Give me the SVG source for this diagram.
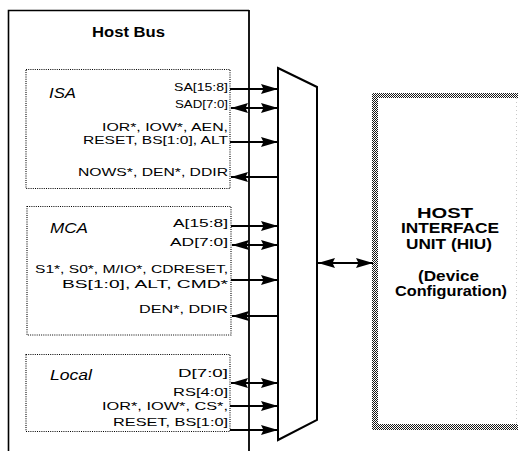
<svg xmlns="http://www.w3.org/2000/svg" width="518" height="451" viewBox="0 0 518 451">
  <style>
    text { font-family: "Liberation Sans", Arial, Helvetica, sans-serif; fill: #000; }
    .sig { font-size: 11.2px; }
    .title { font-size: 14px; font-weight: bold; }
    .bus { font-size: 14px; font-style: italic; }
    .hiu { font-size: 14px; font-weight: bold; }
    .frame { fill: none; stroke: #000; stroke-width: 1.6; }
    .group { fill: none; stroke: #000; stroke-width: 1.1; stroke-dasharray: 1 1.2; }
    .wire { stroke: #000; stroke-width: 1.8; fill: none; }
    .out { marker-end: url(#head); }
    .in { marker-start: url(#head); }
    .both { marker-start: url(#head); marker-end: url(#head); }
  </style>
  <defs>
    <marker id="head" viewBox="0 0 17 10" refX="17" refY="5" markerWidth="17" markerHeight="10" markerUnits="userSpaceOnUse" orient="auto-start-reverse">
      <path d="M0,0 L17,5 L0,10 L2.5,5 z" fill="#000"/>
    </marker>
    <pattern id="weave" width="2" height="2" patternUnits="userSpaceOnUse">
      <rect width="2" height="2" fill="#fff"/>
      <rect width="1" height="1" fill="#1a1a1a"/>
      <rect x="1" y="1" width="1" height="1" fill="#1a1a1a"/>
    </pattern>
  </defs>

  <rect width="518" height="451" fill="#fff"/>

  <!-- Host bus frame, open at the bottom -->
  <g id="host-bus">
    <path class="frame" d="M8.5,451 L8.5,10.5 L249,10.5"/>
    <text class="title" x="92" y="37" textLength="73" lengthAdjust="spacingAndGlyphs">Host Bus</text>
  </g>

  <!-- ISA signal group -->
  <g id="isa">
    <rect class="group" x="26" y="69.5" width="204" height="119"/>
    <text class="bus" x="49" y="98" textLength="27" lengthAdjust="spacingAndGlyphs">ISA</text>
    <text class="sig" x="174" y="91" textLength="54" lengthAdjust="spacingAndGlyphs">SA[15:8]</text>
    <text class="sig" x="175" y="107.5" textLength="53" lengthAdjust="spacingAndGlyphs">SAD[7:0]</text>
    <text class="sig" x="102" y="131" textLength="126" lengthAdjust="spacingAndGlyphs">IOR*, IOW*, AEN,</text>
    <text class="sig" x="83" y="144" textLength="145" lengthAdjust="spacingAndGlyphs">RESET, BS[1:0], ALT</text>
    <text class="sig" x="78" y="176" textLength="150" lengthAdjust="spacingAndGlyphs">NOWS*, DEN*, DDIR</text>
  </g>

  <!-- MCA signal group -->
  <g id="mca">
    <rect class="group" x="27" y="206.5" width="204" height="128.5"/>
    <text class="bus" x="50" y="233" textLength="38" lengthAdjust="spacingAndGlyphs">MCA</text>
    <text class="sig" x="173" y="227" textLength="55" lengthAdjust="spacingAndGlyphs">A[15:8]</text>
    <text class="sig" x="170" y="246" textLength="58" lengthAdjust="spacingAndGlyphs">AD[7:0]</text>
    <text class="sig" x="35" y="273" textLength="193" lengthAdjust="spacingAndGlyphs">S1*, S0*, M/IO*, CDRESET,</text>
    <text class="sig" x="62" y="288" textLength="166" lengthAdjust="spacingAndGlyphs">BS[1:0], ALT, CMD*</text>
    <text class="sig" x="139" y="313" textLength="89" lengthAdjust="spacingAndGlyphs">DEN*, DDIR</text>
  </g>

  <!-- Local signal group -->
  <g id="local">
    <rect class="group" x="26" y="354.5" width="204" height="77"/>
    <text class="bus" x="50" y="380" textLength="42" lengthAdjust="spacingAndGlyphs">Local</text>
    <text class="sig" x="178" y="377" textLength="50" lengthAdjust="spacingAndGlyphs">D[7:0]</text>
    <text class="sig" x="173" y="396" textLength="55" lengthAdjust="spacingAndGlyphs">RS[4:0]</text>
    <text class="sig" x="102" y="410" textLength="126" lengthAdjust="spacingAndGlyphs">IOR*, IOW*, CS*,</text>
    <text class="sig" x="113" y="426" textLength="115" lengthAdjust="spacingAndGlyphs">RESET, BS[1:0]</text>
  </g>

  <!-- Multiplexer -->
  <g id="mux">
    <polygon points="278,68 317,87 317,420 278,440" fill="#fff" stroke="#000" stroke-width="2"/>
  </g>

  <!-- Host Interface Unit -->
  <g id="hiu">
    <rect x="378" y="98" width="140" height="326" fill="#fff"/>
    <rect x="372" y="93" width="146" height="5" fill="url(#weave)"/>
    <rect x="372" y="93" width="6" height="337" fill="url(#weave)"/>
    <rect x="372" y="424" width="146" height="6" fill="url(#weave)"/>
    <line x1="516.5" y1="98" x2="516.5" y2="424" stroke="#c8c8c8" stroke-width="1" stroke-dasharray="1 3"/>
    <text class="hiu" x="417" y="218" textLength="56" lengthAdjust="spacingAndGlyphs">HOST</text>
    <text class="hiu" x="401" y="233" textLength="98" lengthAdjust="spacingAndGlyphs">INTERFACE</text>
    <text class="hiu" x="406" y="249" textLength="86" lengthAdjust="spacingAndGlyphs">UNIT (HIU)</text>
    <text class="hiu" x="418" y="281" textLength="61" lengthAdjust="spacingAndGlyphs">(Device</text>
    <text class="hiu" x="395" y="296" textLength="112" lengthAdjust="spacingAndGlyphs">Configuration)</text>
  </g>

  <!-- Signal connectors -->
  <g id="connectors">
    <!-- host bus backbone -->
    <line class="wire" x1="249" y1="10" x2="249" y2="451" stroke-width="2"/>
    <!-- ISA -->
    <line class="wire out" x1="230" y1="89" x2="278" y2="89"/>
    <line class="wire both" x1="231" y1="108" x2="278" y2="108"/>
    <line class="wire out" x1="230" y1="142" x2="278" y2="142"/>
    <line class="wire in" x1="231" y1="177" x2="278" y2="177"/>
    <!-- MCA -->
    <line class="wire out" x1="231" y1="226" x2="278" y2="226"/>
    <line class="wire both" x1="232" y1="245" x2="278" y2="245"/>
    <line class="wire out" x1="231" y1="280" x2="278" y2="280"/>
    <line class="wire in" x1="232" y1="316" x2="278" y2="316"/>
    <!-- Local -->
    <line class="wire both" x1="231" y1="383" x2="278" y2="383"/>
    <line class="wire out" x1="230" y1="406" x2="278" y2="406"/>
    <line class="wire out" x1="230" y1="430" x2="278" y2="430"/>
    <!-- mux to HIU -->
    <line class="wire both" x1="318" y1="263" x2="373" y2="263"/>
  </g>
</svg>
